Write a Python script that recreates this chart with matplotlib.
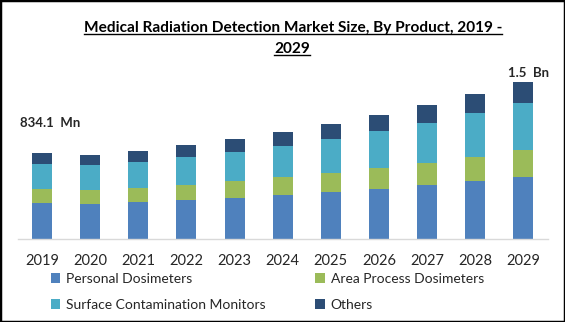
import matplotlib
matplotlib.use('Agg')
import matplotlib.pyplot as plt
from matplotlib.patches import Rectangle
from matplotlib.lines import Line2D
import numpy as np

years = ['2019', '2020', '2021', '2022', '2023', '2024', '2025', '2026', '2027', '2028', '2029']
personal = [352, 342, 362, 381, 398, 427, 456, 485, 524, 563, 601]
area = [133, 133, 136, 146, 165, 175, 187, 207, 213, 233, 265]
surface = [245, 245, 249, 272, 281, 301, 327, 359, 391, 430, 456]
others = [104, 94, 107, 113, 126, 139, 146, 152, 172, 181, 201]
series_names = ['Personal Dosimeters', 'Area Process Dosimeters',
                'Surface Contamination Monitors', 'Others']
colors = ['#4F81BD', '#9BBB59', '#4BACC6', '#2C4D75']

plt.rcParams['font.family'] = ['Lato', 'DejaVu Sans']

W, H = 565, 322
fig = plt.figure(figsize=(W / 100, H / 100), dpi=100)
ax = fig.add_axes([18 / W, (H - 239) / H, (547.5 - 18) / W, (239 - 64) / H])

x = np.arange(len(years))
bottom = np.zeros(len(years))
bars = []
for vals, c in zip([personal, area, surface, others], colors):
    b = ax.bar(x, vals, width=0.415, bottom=bottom, color=c)
    bars.append(b)
    bottom += np.array(vals)

ax.set_xlim(-0.5, len(years) - 0.5)
ax.set_ylim(0, 1700)
for s in ['top', 'right', 'left']:
    ax.spines[s].set_visible(False)
ax.spines['bottom'].set_color('#d9d9d9')
ax.spines['bottom'].set_linewidth(1)
ax.set_yticks([])
ax.set_xticks(x)
ax.set_xticklabels(years, fontsize=10.5, color='#262626')
ax.tick_params(axis='x', length=0, pad=11)

# value labels for first and last year
ax.annotate('834.1  Mn', xy=(0, bottom[0]), xytext=(20 / W, (H - 123) / H),
            textcoords='figure fraction', ha='left', va='center',
            fontsize=9.5, fontweight='bold', color='#262626')
ax.annotate('1.5  Bn', xy=(10, bottom[-1]), xytext=(529 / W, (H - 73) / H),
            textcoords='figure fraction', ha='center', va='center',
            fontsize=9.5, fontweight='bold', color='#262626')

t1 = fig.text(293 / W, (H - 28) / H,
              'Medical Radiation Detection Market Size, By Product, 2019 -',
              ha='center', va='center', fontsize=11.1, fontweight='bold', color='black')
t2 = fig.text(292 / W, (H - 49) / H, '2029',
              ha='center', va='center', fontsize=11.1, fontweight='bold', color='black')

handles = [bars[i] for i in [0, 2, 1, 3]]
labels = [series_names[i] for i in [0, 2, 1, 3]]
fig.legend(handles, labels, loc='center left', bbox_to_anchor=(38 / W, (H - 292) / H),
           ncol=2, frameon=False, fontsize=10, handlelength=0.7, handleheight=0.7,
           handletextpad=0.4, columnspacing=3.6, labelspacing=1.0,
           labelcolor='#262626')

# underline the title
fig.canvas.draw()
r = fig.canvas.get_renderer()
for t in [t1, t2]:
    bb = t.get_window_extent(r)
    y = bb.y0 + 1
    fig.add_artist(Line2D([bb.x0 / W, bb.x1 / W], [y / H, y / H],
                          transform=fig.transFigure, color='black', linewidth=1))

# outer border
fig.add_artist(Rectangle((0, 0), 1, 1, transform=fig.transFigure, fill=False,
                         edgecolor='black', linewidth=2.5))

fig.savefig('out.png', dpi=100)
